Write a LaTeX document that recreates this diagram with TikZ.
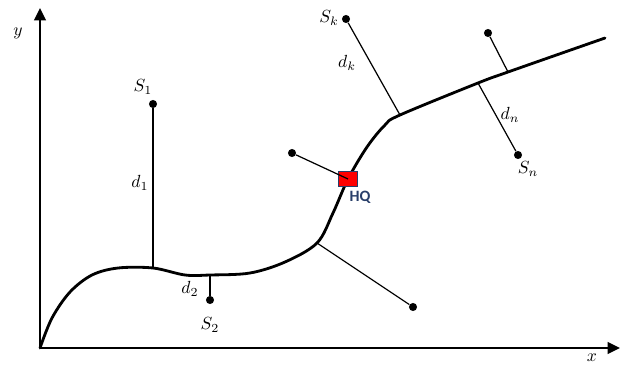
\documentclass[tikz,border=0pt]{standalone}
\usepackage{amsmath}
\usepackage{xcolor}
\usepackage{fontspec}
\newfontfamily\hqfont{Carlito}
\usetikzlibrary{arrows.meta}
\definecolor{hqblue}{RGB}{40,62,105}

\begin{document}
\begin{tikzpicture}[x=0.02cm,y=-0.02cm,
  site/.style={circle, fill, inner sep=0pt, minimum size=4.6pt},
  lbl/.style={font=\fontsize{10}{12}\selectfont},
  road/.style={line width=1.6pt, line join=round, line cap=round},
  link/.style={line width=0.7pt}]
\useasboundingbox (0,0) rectangle (621,365);

% axes
\coordinate (O) at (40,348);
\coordinate (X) at (620,348);
\coordinate (Y) at (40,8);
\draw[line width=1.3pt, -{Triangle[length=7pt,width=6.5pt]}] (O) -- (X);
\draw[line width=1.3pt, -{Triangle[length=7pt,width=6.5pt]}] (O) -- (Y);
\node[lbl] (xl) at (592,358) {$x$};
\node[lbl] (yl) at (18,33) {$y$};

% points where the links meet the road
\coordinate (J1) at (153,268);
\coordinate (J2) at (210,275);
\coordinate (J3) at (317,243);
\coordinate (hq) at (348,179);
\coordinate (J4) at (400,115);
\coordinate (J5) at (478,83);
\coordinate (J6) at (508,72);

\draw[road] plot[smooth, tension=0.55] coordinates {(O) (52,318) (70,292) (92,275)
  (118,268) (J1) (185,275) (J2) (250,273) (285,262) (J3) (333,213) (hq) (367,147)
  (385,125) (J4) (J5) (J6) (605,38)};

% sites
\node[site] (S1) at (153,104) {};
\node[site] (S2) at (210,300) {};
\node[site] (Sk) at (346,19) {};
\node[site] (Sn) at (518,155) {};
\node[site] (Sa) at (292,153) {};
\node[site] (Sb) at (413,307) {};
\node[site] (Sc) at (488,33) {};

\draw[link] (S1) -- (J1);
\draw[link] (S2) -- (J2);
\draw[link] (Sk) -- (J4);
\draw[link] (Sn) -- (J5);
\draw[link] (Sb) -- (J3);
\draw[link] (Sc) -- (J6);

\node[draw=hqblue, fill=red, line width=1pt, minimum width=0.38cm,
  minimum height=0.3cm, inner sep=0pt] (HQ) at (hq) {};
\draw[link] (Sa) -- (HQ.center);
\node[font=\hqfont\bfseries\fontsize{9}{10}\selectfont, text=hqblue] (hql) at (360,197) {HQ};

% labels
\node[lbl] (l1) at (143,87) {$S_1$};
\node[lbl] (l2) at (210,325) {$S_2$};
\node[lbl] (lk) at (329,18) {$S_k$};
\node[lbl] (ln) at (528,169) {$S_n$};
\node[lbl] (m1) at (140,183) {$d_1$};
\node[lbl] (m2) at (190,289) {$d_2$};
\node[lbl] (mk) at (347,63) {$d_k$};
\node[lbl] (mn) at (510,115) {$d_n$};
\end{tikzpicture}
\end{document}
